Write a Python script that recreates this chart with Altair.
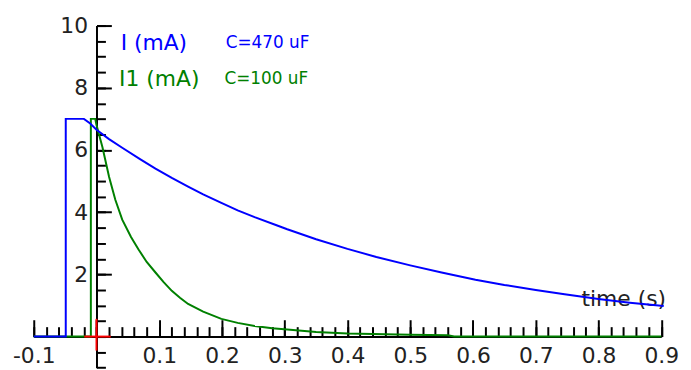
import altair as alt
import pandas as pd

# ---- data ----
blue_t = [-0.1, -0.049, -0.049, -0.02, -0.01, 0.0, 0.02, 0.041, 0.07, 0.094, 0.12, 0.146,
          0.17, 0.199, 0.225, 0.252, 0.288, 0.304, 0.35, 0.4, 0.446, 0.5, 0.55, 0.604,
          0.65, 0.7, 0.746, 0.8, 0.85, 0.904]
blue_i = [0.0, 0.0, 7.0, 7.0, 6.85, 6.65, 6.35, 6.07, 5.7, 5.4, 5.1, 4.82,
          4.57, 4.3, 4.06, 3.84, 3.57, 3.45, 3.13, 2.82, 2.56, 2.29, 2.06, 1.83,
          1.66, 1.5, 1.36, 1.21, 1.09, 0.98]

green_t = [-0.1, -0.009, -0.009, -0.002, 0.0, 0.0095, 0.02, 0.03, 0.041, 0.055, 0.067,
           0.08, 0.094, 0.107, 0.12, 0.133, 0.146, 0.17, 0.199, 0.225, 0.252, 0.28,
           0.304, 0.35, 0.4, 0.5, 0.56, 0.57, 0.9]
green_i = [0.0, 0.0, 7.0, 7.0, 6.8, 6.09, 5.14, 4.4, 3.76, 3.2, 2.8,
           2.4, 2.06, 1.75, 1.47, 1.25, 1.05, 0.8, 0.57, 0.44, 0.34, 0.27,
           0.23, 0.15, 0.1, 0.06, 0.04, 0.0, 0.0]

x_major = [-0.1, 0.0, 0.1, 0.2, 0.3, 0.4, 0.5, 0.6, 0.7, 0.8, 0.9]
x_labels = [-0.1, 0.1, 0.2, 0.3, 0.4, 0.5, 0.6, 0.7, 0.8, 0.9]
x_minor = [round(-0.1 + 0.02 * k, 2) for k in range(51)]
y_major = [2, 4, 6, 8, 10]
y_minor = [round(-1 + 0.5 * k, 1) for k in range(23)]

name_text = ["I (mA)", "I1 (mA)"]
cap_text = ["C=470 uF", "C=100 uF"]
text_colors = ["#0000ff", "#008000"]
name_t = [0.0385, 0.036]
cap_t = [0.206, 0.204]
text_v = [9.44, 8.27]

time_label = ["time (s)"]
time_t = [0.773]
time_v = [1.2]

cross_h_t = [-0.0195]
cross_h_t2 = [0.0227]
cross_v_v = [0.57]
cross_v_v2 = [-0.45]

# ---- layout ----
W, H = 633.5, 345.4
KY = H / 11.0
FONT = "DejaVu Sans"

df_blue = pd.DataFrame({"t": blue_t, "i": blue_i, "k": range(len(blue_t))})
df_green = pd.DataFrame({"t": green_t, "i": green_i, "k": range(len(green_t))})
df_name = pd.DataFrame({"t": name_t, "v": text_v, "s": name_text, "c": text_colors})
df_cap = pd.DataFrame({"t": cap_t, "v": text_v, "s": cap_text, "c": text_colors})
df_time = pd.DataFrame({"t": time_t, "v": time_v, "s": time_label})
df_ch = pd.DataFrame({"t": cross_h_t, "t2": cross_h_t2, "v": [0.0]})
df_cv = pd.DataFrame({"t": [0.0], "v": cross_v_v, "v2": cross_v_v2})

xs = alt.Scale(domain=[-0.1, 0.9], nice=False, zero=False)
ys = alt.Scale(domain=[-1, 10], nice=False, zero=False)

TOP_OFF = -10 * KY
BOT_OFF = -1 * KY
RIGHT_OFF = -0.9 * W
LEFT_OFF = -0.1 * W

ax_x_minor = alt.Axis(orient="top", values=x_minor, labels=False, domain=False, grid=False,
                      ticks=True, tickSize=10, tickWidth=2, tickColor="#000", offset=TOP_OFF, title=None)
ax_x_major = alt.Axis(orient="top", values=x_major, labels=False, domain=True, domainColor="#000",
                      domainWidth=2, grid=False, ticks=True, tickSize=17, tickWidth=2, tickColor="#000",
                      offset=TOP_OFF, title=None)
ax_x_lab = alt.Axis(orient="bottom", values=x_labels, labels=True, domain=False, ticks=False, tickSize=0,
                    grid=False, labelPadding=9, labelFontSize=22, labelFont=FONT, labelColor="#222",
                    labelFlush=False, labelOverlap=False, labelBound=False,
                    labelExpr="datum.value < 0 ? '-' + format(-datum.value, '.1f') : format(datum.value, '.1f')",
                    offset=BOT_OFF, title=None)
ax_y_minor = alt.Axis(orient="right", values=y_minor, labels=False, domain=False, grid=False,
                      ticks=True, tickSize=9, tickWidth=2, tickColor="#000", offset=RIGHT_OFF, title=None)
ax_y_major = alt.Axis(orient="right", values=y_major, labels=False, domain=True, domainColor="#000",
                      domainWidth=2, grid=False, ticks=True, tickSize=15, tickWidth=2, tickColor="#000",
                      offset=RIGHT_OFF, title=None)
ax_y_lab = alt.Axis(orient="left", values=y_major, labels=True, domain=False, ticks=False, tickSize=0,
                    grid=False, labelPadding=9, labelFontSize=22, labelFont=FONT, labelColor="#222",
                    labelFlush=False, labelOverlap=False, labelBound=False, format="d",
                    offset=LEFT_OFF, title=None)

time_layer = alt.Chart(df_time).mark_text(align="left", baseline="middle", fontSize=22, font=FONT,
                                          color="#222").encode(
    x=alt.X("t:Q", scale=xs, axis=None), y=alt.Y("v:Q", scale=ys, axis=None), text="s:N")

green = alt.Chart(df_green).mark_line(color="#008000", strokeWidth=2).encode(
    x=alt.X("t:Q", scale=xs, axis=ax_x_minor),
    y=alt.Y("i:Q", scale=ys, axis=ax_y_minor),
    order=alt.Order("k:Q"))

blue = alt.Chart(df_blue).mark_line(color="#0000ff", strokeWidth=2).encode(
    x=alt.X("t:Q", scale=xs, axis=ax_x_major),
    y=alt.Y("i:Q", scale=ys, axis=ax_y_major),
    order=alt.Order("k:Q"))

names = alt.Chart(df_name).mark_text(align="left", baseline="middle", fontSize=22, font=FONT).encode(
    x=alt.X("t:Q", scale=xs, axis=ax_x_lab),
    y=alt.Y("v:Q", scale=ys, axis=ax_y_lab),
    text="s:N", color=alt.Color("c:N", scale=None))

caps = alt.Chart(df_cap).mark_text(align="left", baseline="middle", fontSize=17, font=FONT).encode(
    x=alt.X("t:Q", scale=xs, axis=None),
    y=alt.Y("v:Q", scale=ys, axis=None),
    text="s:N", color=alt.Color("c:N", scale=None))

cross_h = alt.Chart(df_ch).mark_rule(color="#ff0000", strokeWidth=2).encode(
    x=alt.X("t:Q", scale=xs, axis=None), x2="t2:Q", y=alt.Y("v:Q", scale=ys, axis=None))
cross_v = alt.Chart(df_cv).mark_rule(color="#ff0000", strokeWidth=2).encode(
    x=alt.X("t:Q", scale=xs, axis=None), y=alt.Y("v:Q", scale=ys, axis=None), y2="v2:Q")

chart = alt.layer(time_layer, green, blue, names, caps, cross_h, cross_v).resolve_axis(
    x="independent", y="independent"
).properties(
    width=W, height=H,
    autosize=alt.AutoSizeParams(type="none"),
    padding={"left": 26, "top": 16, "right": 22, "bottom": 0},
    background="white",
).configure_view(stroke=None)

chart.save("out.html", embed_options={"renderer": "svg", "actions": False})
